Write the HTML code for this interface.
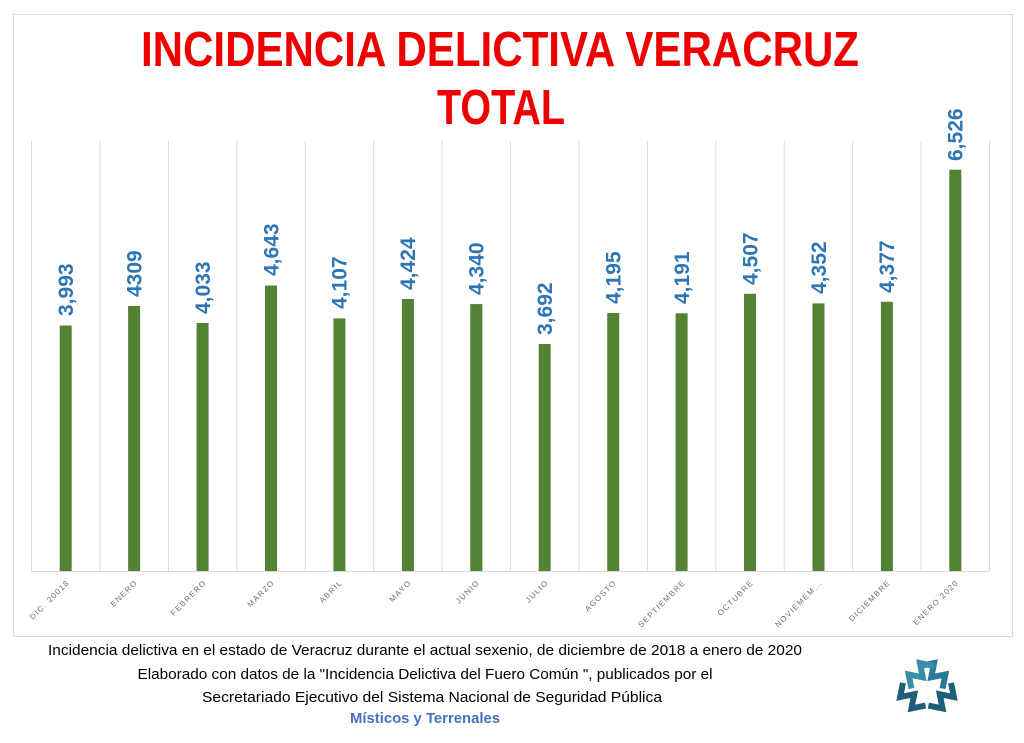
<!DOCTYPE html>
<html><head><meta charset="utf-8"><style>
html,body{margin:0;padding:0;background:#fff;}
svg{display:block;}
</style></head><body>
<svg width="1024" height="743" viewBox="0 0 1024 743" xmlns="http://www.w3.org/2000/svg" font-family="Liberation Sans, sans-serif">
<rect x="0" y="0" width="1024" height="743" fill="#fff"/>
<rect x="13.5" y="14.5" width="999" height="622" fill="none" stroke="#d9d9d9" stroke-width="1"/>
<text x="500" y="66" font-size="49" font-weight="bold" fill="#ee0000" text-anchor="middle" textLength="718" lengthAdjust="spacingAndGlyphs">INCIDENCIA DELICTIVA VERACRUZ</text>
<text x="501" y="124" font-size="49" font-weight="bold" fill="#ee0000" text-anchor="middle" textLength="128" lengthAdjust="spacingAndGlyphs">TOTAL</text>
<g stroke="#d9d9d9" stroke-width="1">
<line x1="31.5" y1="141" x2="31.5" y2="571"/><line x1="99.9" y1="141" x2="99.9" y2="571"/><line x1="168.4" y1="141" x2="168.4" y2="571"/><line x1="236.8" y1="141" x2="236.8" y2="571"/><line x1="305.2" y1="141" x2="305.2" y2="571"/><line x1="373.7" y1="141" x2="373.7" y2="571"/><line x1="442.1" y1="141" x2="442.1" y2="571"/><line x1="510.5" y1="141" x2="510.5" y2="571"/><line x1="579" y1="141" x2="579" y2="571"/><line x1="647.4" y1="141" x2="647.4" y2="571"/><line x1="715.8" y1="141" x2="715.8" y2="571"/><line x1="784.2" y1="141" x2="784.2" y2="571"/><line x1="852.7" y1="141" x2="852.7" y2="571"/><line x1="921.1" y1="141" x2="921.1" y2="571"/><line x1="989.5" y1="141" x2="989.5" y2="571"/>
<line x1="31.5" y1="571.5" x2="989.5" y2="571.5"/>
</g>
<g fill="#548235">
<rect x="59.7" y="325.5" width="12" height="245.5"/>
<rect x="128.1" y="306" width="12" height="265"/>
<rect x="196.6" y="323" width="12" height="248"/>
<rect x="265" y="285.5" width="12" height="285.5"/>
<rect x="333.4" y="318.4" width="12" height="252.6"/>
<rect x="401.9" y="299" width="12" height="272"/>
<rect x="470.3" y="304.1" width="12" height="266.9"/>
<rect x="538.7" y="344" width="12" height="227"/>
<rect x="607.2" y="313" width="12" height="258"/>
<rect x="675.6" y="313.3" width="12" height="257.7"/>
<rect x="744" y="293.8" width="12" height="277.2"/>
<rect x="812.5" y="303.4" width="12" height="267.6"/>
<rect x="880.9" y="301.8" width="12" height="269.2"/>
<rect x="949.3" y="169.7" width="12" height="401.3"/>
</g>
<g fill="#2e75b6" font-size="21" font-weight="bold">
<text transform="translate(73,316) rotate(-90)">3,993</text>
<text transform="translate(141.4,297) rotate(-90)">4309</text>
<text transform="translate(209.9,314) rotate(-90)">4,033</text>
<text transform="translate(278.3,276) rotate(-90)">4,643</text>
<text transform="translate(346.7,309) rotate(-90)">4,107</text>
<text transform="translate(415.2,290) rotate(-90)">4,424</text>
<text transform="translate(483.6,295) rotate(-90)">4,340</text>
<text transform="translate(552,335) rotate(-90)">3,692</text>
<text transform="translate(620.5,304) rotate(-90)">4,195</text>
<text transform="translate(688.9,304) rotate(-90)">4,191</text>
<text transform="translate(757.3,285) rotate(-90)">4,507</text>
<text transform="translate(825.8,294) rotate(-90)">4,352</text>
<text transform="translate(894.2,293) rotate(-90)">4,377</text>
<text transform="translate(962.6,161) rotate(-90)">6,526</text>
</g>
<g fill="#6b6b6b" font-size="7.8" letter-spacing="1.3" text-anchor="end">
<text transform="translate(70,583) rotate(-45)">DIC. 20018</text>
<text transform="translate(138,583) rotate(-45)">ENERO</text>
<text transform="translate(207,583) rotate(-45)">FEBRERO</text>
<text transform="translate(275,583) rotate(-45)">MARZO</text>
<text transform="translate(343,583) rotate(-45)">ABRIL</text>
<text transform="translate(412,583) rotate(-45)">MAYO</text>
<text transform="translate(480,583) rotate(-45)">JUNIO</text>
<text transform="translate(549,583) rotate(-45)">JULIO</text>
<text transform="translate(617,583) rotate(-45)">AGOSTO</text>
<text transform="translate(686,583) rotate(-45)">SEPTIEMBRE</text>
<text transform="translate(754,583) rotate(-45)">OCTUBRE</text>
<text transform="translate(823,583) rotate(-45)">NOVIEMEM...</text>
<text transform="translate(891,583) rotate(-45)">DICIEMBRE</text>
<text transform="translate(959,583) rotate(-45)">ENERO 2020</text>
</g>
<g fill="#000" font-size="15" text-anchor="middle">
<text x="425" y="655" textLength="754" lengthAdjust="spacingAndGlyphs">Incidencia delictiva en el estado de Veracruz durante el actual sexenio, de diciembre de 2018 a enero de 2020</text>
<text x="425" y="679" textLength="575" lengthAdjust="spacingAndGlyphs">Elaborado con datos de la "Incidencia Delictiva del Fuero Común ", publicados por el</text>
<text x="432" y="702" textLength="460" lengthAdjust="spacingAndGlyphs">Secretariado Ejecutivo del Sistema Nacional de Seguridad Pública</text>
<text x="425" y="723" font-weight="bold" fill="#4472c4" textLength="150" lengthAdjust="spacingAndGlyphs">Místicos y Terrenales</text>
</g>
<g transform="translate(927,690) rotate(45)" fill="none" stroke-width="6" stroke-linejoin="miter">
<polyline points="-22,-12 -14,-24 -6,-12 2,-24 10,-12" stroke="#2a7a95"/>
<polyline points="-22,12 -14,24 -6,12 2,24 10,12" stroke="#1f5f78"/>
<polyline points="-12,-22 -24,-14 -12,-6 -24,2 -12,10" stroke="#3a8fa8"/>
<polyline points="12,-22 24,-14 12,-6 24,2 12,10" stroke="#1f5f78"/>
</g>
</svg>
</body></html>
